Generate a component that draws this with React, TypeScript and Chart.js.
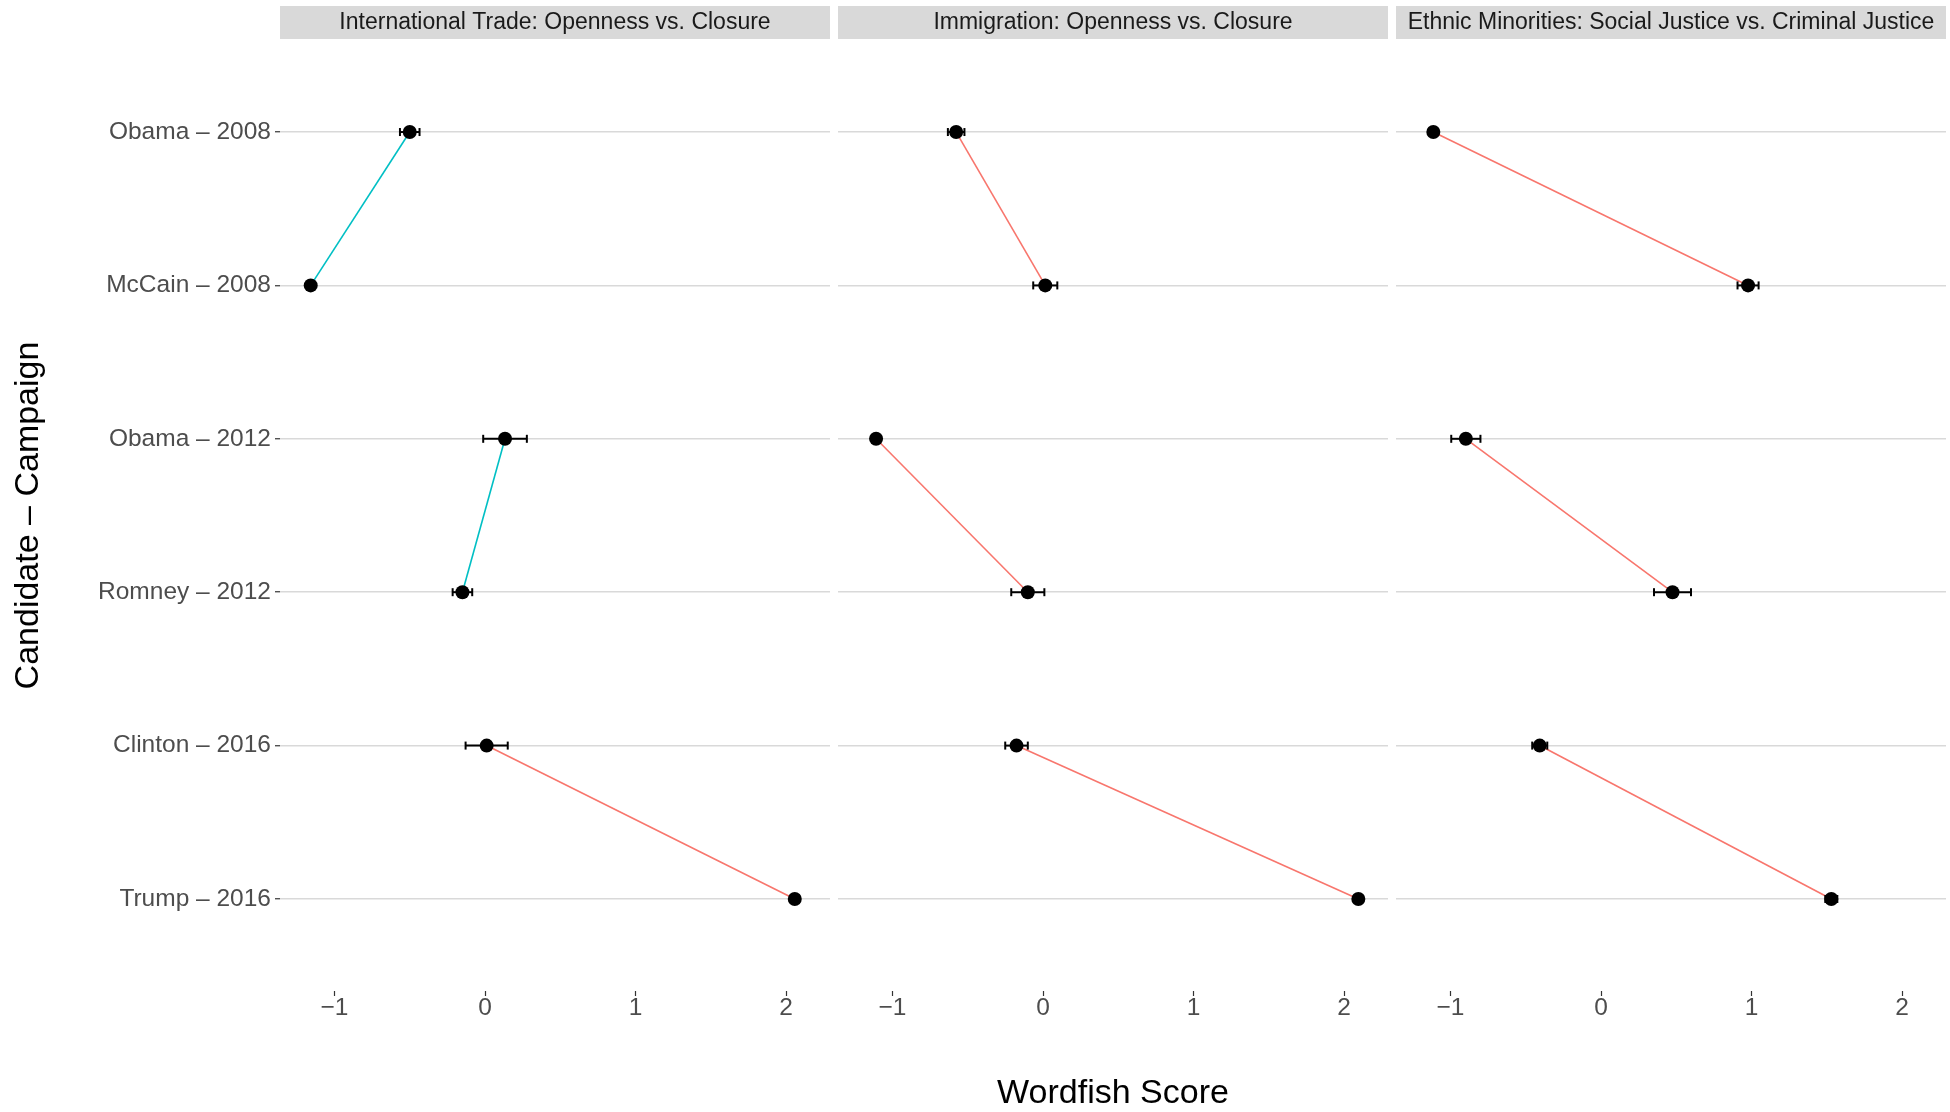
import React, { useEffect, useRef } from 'react';
import { Chart, registerables } from 'chart.js';

Chart.register(...registerables);

// ---------------- data ----------------
const candidates = [
  'Obama – 2008',
  'McCain – 2008',
  'Obama – 2012',
  'Romney – 2012',
  'Clinton – 2016',
  'Trump – 2016',
];

const panelTitles = [
  'International Trade: Openness vs. Closure',
  'Immigration: Openness vs. Closure',
  'Ethnic Minorities: Social Justice vs. Criminal Justice',
];

const tradeScores = [-0.5, -1.158, 0.133, -0.15, 0.011, 2.058];
const tradeSE = [0.065, 0.02, 0.145, 0.065, 0.14, 0.02];

const immigrationScores = [-0.577, 0.015, -1.109, -0.101, -0.176, 2.095];
const immigrationSE = [0.055, 0.08, 0.02, 0.11, 0.075, 0.02];

const ethnicScores = [-1.114, 0.977, -0.898, 0.475, -0.407, 1.53];
const ethnicSE = [0.02, 0.07, 0.097, 0.123, 0.05, 0.04];

const xTicks = [-1, 0, 1, 2];
const xTitle = 'Wordfish Score';
const yTitle = 'Candidate – Campaign';

const panelScores = [tradeScores, immigrationScores, ethnicScores];
const panelSE = [tradeSE, immigrationSE, ethnicSE];

// ---------------- style ----------------
const FONT = "'Liberation Sans', Arial, Helvetica, sans-serif";
const TEAL = '#00BFC4';
const RED = '#F8766D';
const X_MIN = -1.362;
const X_MAX = 2.292;
const Y_MIN = 0.4;
const Y_MAX = 6.6;

const fmtTick = (v: number) => (v < 0 ? '\u2212' + Math.abs(v) : String(v));

const stripPlugin = {
  id: 'strip',
  afterDraw(chart: any, _args: any, opts: any) {
    const { ctx, chartArea } = chart;
    ctx.save();
    ctx.fillStyle = '#D9D9D9';
    ctx.fillRect(chartArea.left, 6, chartArea.right - chartArea.left, 33);
    ctx.fillStyle = '#1A1A1A';
    ctx.font = `23px ${FONT}`;
    ctx.textAlign = 'center';
    ctx.textBaseline = 'middle';
    ctx.fillText(opts.text, (chartArea.left + chartArea.right) / 2, 23);
    ctx.restore();
  },
};

function buildDatasets(scores: number[], se: number[]) {
  const ds: any[] = [];
  for (let p = 0; p < scores.length / 2; p++) {
    const a = 2 * p;
    const b = 2 * p + 1;
    ds.push({
      data: [
        { x: scores[a], y: a + 1 },
        { x: scores[b], y: b + 1 },
      ],
      showLine: true,
      borderColor: scores[a] > scores[b] ? TEAL : RED,
      borderWidth: 1.6,
      pointRadius: 0,
      order: 3,
    });
  }
  for (let i = 0; i < scores.length; i++) {
    ds.push({
      data: [
        { x: scores[i] - se[i], y: i + 1 },
        { x: scores[i] + se[i], y: i + 1 },
      ],
      showLine: true,
      borderColor: '#000000',
      borderWidth: 2,
      pointStyle: 'line',
      pointRotation: 90,
      pointRadius: 4,
      pointBorderWidth: 2,
      pointBorderColor: '#000000',
      pointBackgroundColor: '#000000',
      order: 2,
    });
  }
  ds.push({
    data: scores.map((s, i) => ({ x: s, y: i + 1 })),
    showLine: false,
    pointRadius: 7,
    pointBackgroundColor: '#000000',
    pointBorderWidth: 0,
    order: 1,
  });
  return ds;
}

function Panel({ idx, left, width, padLeft }: { idx: number; left: number; width: number; padLeft: number }) {
  const ref = useRef<HTMLCanvasElement | null>(null);
  useEffect(() => {
    if (!ref.current) return;
    const first = idx === 0;
    const chart = new Chart(ref.current, {
      type: 'scatter',
      data: { datasets: buildDatasets(panelScores[idx], panelSE[idx]) },
      plugins: [stripPlugin as any],
      options: {
        responsive: false,
        animation: false,
        events: [],
        layout: { autoPadding: false, padding: { top: 40, left: padLeft, right: 0, bottom: 0 } },
        plugins: {
          legend: { display: false },
          tooltip: { enabled: false },
          title: { display: false },
          strip: { text: panelTitles[idx] },
        } as any,
        scales: {
          x: {
            type: 'linear',
            min: X_MIN,
            max: X_MAX,
            bounds: 'data',
            afterBuildTicks: (ax: any) => {
              ax.ticks = xTicks.map((v) => ({ value: v }));
            },
            afterFit: (s: any) => {
              s.height = 121;
              s.paddingLeft = 0;
              s.paddingRight = 0;
            },
            grid: {
              drawOnChartArea: false,
              drawTicks: true,
              tickLength: 5,
              tickColor: '#333333',
              tickWidth: 1.2,
            },
            border: { display: false },
            ticks: {
              color: '#4D4D4D',
              font: { family: FONT, size: 24.5, lineHeight: 1 },
              padding: 0,
              maxRotation: 0,
              autoSkip: false,
              callback: (v: any) => fmtTick(Number(v)),
            },
            title: {
              display: idx === 1,
              text: xTitle,
              color: '#000000',
              font: { family: FONT, size: 34, lineHeight: 1 },
              padding: { top: 0, bottom: 1 },
            },
          },
          y: {
            type: 'linear',
            reverse: true,
            min: Y_MIN,
            max: Y_MAX,
            bounds: 'data',
            afterBuildTicks: (ax: any) => {
              ax.ticks = candidates.map((_, i) => ({ value: i + 1 }));
            },
            afterFit: (s: any) => {
              s.width = first ? 280 : 0;
              s.paddingTop = 0;
              s.paddingBottom = 0;
            },
            grid: {
              color: '#D9D9D9',
              lineWidth: 1.5,
              drawTicks: first,
              tickLength: 5,
              tickColor: '#333333',
              tickWidth: 1.2,
            },
            border: { display: false },
            ticks: {
              display: first,
              color: '#4D4D4D',
              font: { family: FONT, size: 24.5 },
              padding: 4,
              autoSkip: false,
              callback: (v: any) => candidates[Math.round(Number(v)) - 1] ?? '',
            },
            title: {
              display: first,
              text: yTitle,
              color: '#000000',
              font: { family: FONT, size: 34 },
              padding: { top: 8, bottom: 0 },
            },
          },
        },
      } as any,
    });
    return () => chart.destroy();
  }, [idx, padLeft]);
  return (
    <canvas
      ref={ref}
      width={width}
      height={1112}
      style={{ position: 'absolute', left, top: 0, width, height: 1112, display: 'block' }}
    />
  );
}

export default function App() {
  return (
    <div
      style={{
        position: 'fixed',
        left: 0,
        top: 0,
        width: 1950,
        height: 1112,
        background: '#FFFFFF',
        overflow: 'hidden',
      }}
    >
      <Panel idx={0} left={0} width={830} padLeft={0} />
      <Panel idx={1} left={830} width={558} padLeft={8} />
      <Panel idx={2} left={1388} width={558} padLeft={8} />
    </div>
  );
}
